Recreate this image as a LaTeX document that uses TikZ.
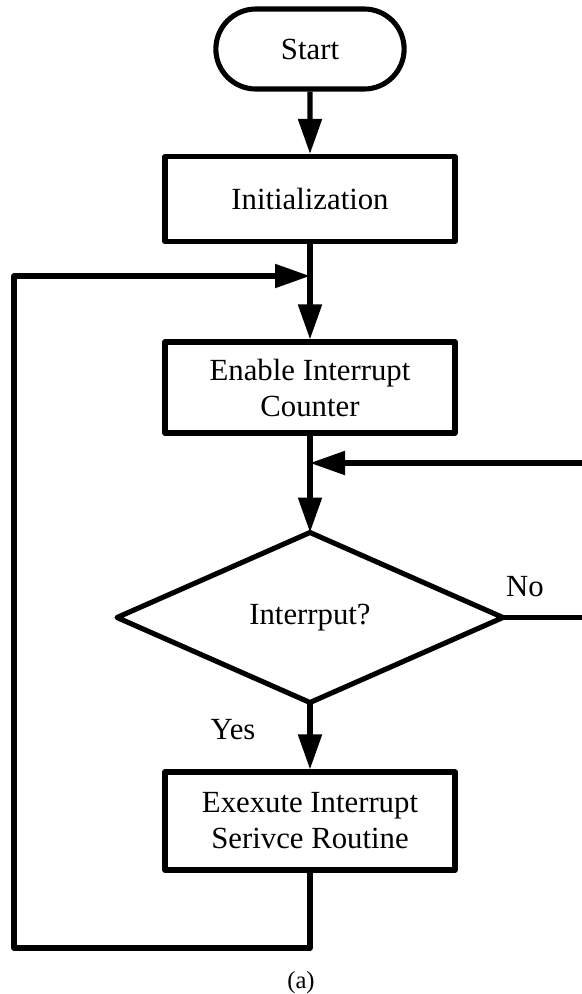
\documentclass[tikz,border=0pt]{standalone}
\usepackage{fontspec}
\setmainfont{Liberation Serif}
\usepackage{tikz}
\usetikzlibrary{positioning, arrows.meta, shapes.geometric, shapes.misc}
\tikzset{
	>={Triangle[length=0.7cm, width=0.46cm]},
	every path/.style={line width=2.9pt, line join=round},
	terminal/.style={draw, rounded rectangle, minimum width=4cm, minimum height=1.6cm, font=\fontsize{17.5}{20}\selectfont},
	process/.style={draw, rectangle, minimum width=5.8cm, align=center, font=\fontsize{17.5}{20.5}\selectfont},
	decision/.style={draw, diamond, minimum width=7.72cm, minimum height=3.4cm, inner sep=0pt, outer sep=0pt, font=\fontsize{17.5}{20}\selectfont},
	tag/.style={font=\fontsize{17.5}{20}\selectfont},
}

\begin{document}
\begin{tikzpicture}
			\useasboundingbox (0,0) rectangle (11.62,-19.88);
			
			\node[terminal] (START) at (6.2,-0.98) {Start};
			\node[process, minimum height=1.7cm] (INIT) at (6.2,-3.98) {Initialization};
			\node[process, minimum height=1.82cm] (ENABLE) at (6.2,-7.75) {Enable Interrupt\\Counter};
			\node[decision] (CHECK) at (6.2,-12.35) {Interrput?};
			\node[process, minimum height=1.96cm] (ISR) at (6.2,-16.42) {Exexute Interrupt\\Serivce Routine};
			
			\coordinate (JOIN1) at (6.2,-5.52);
			\coordinate (JOIN2) at (6.2,-9.26);
			\coordinate (NOEND) at (11.8,-12.35);
			\coordinate (NOTOP) at (11.8,-9.26);
			\coordinate (LOOPR) at (6.2,-18.96);
			\coordinate (LOOPL) at (0.28,-18.96);
			\coordinate (LOOPT) at (0.28,-5.52);
			
			\node[tag] (YES) at (4.66,-14.6) {Yes};
			\node[tag] (NO) at (10.5,-11.74) {No};
			\node[font=\fontsize{14}{16}\selectfont] (CAPTION) at (6.02,-19.66) {(a)};
			
			\draw[->] (START) -- (INIT);
			\draw (INIT) -- (JOIN1);
			\draw[->] (JOIN1) -- (ENABLE);
			\draw (ENABLE) -- (JOIN2);
			\draw[->] (JOIN2) -- (CHECK);
			\draw[->] (CHECK) -- (ISR);
			\draw[->] (CHECK.east) -- (NOEND) -- (NOTOP) -- (JOIN2);
			\draw[->] (ISR) -- (LOOPR) -- (LOOPL) -- (LOOPT) -- (JOIN1);
			
\end{tikzpicture}
\end{document}
